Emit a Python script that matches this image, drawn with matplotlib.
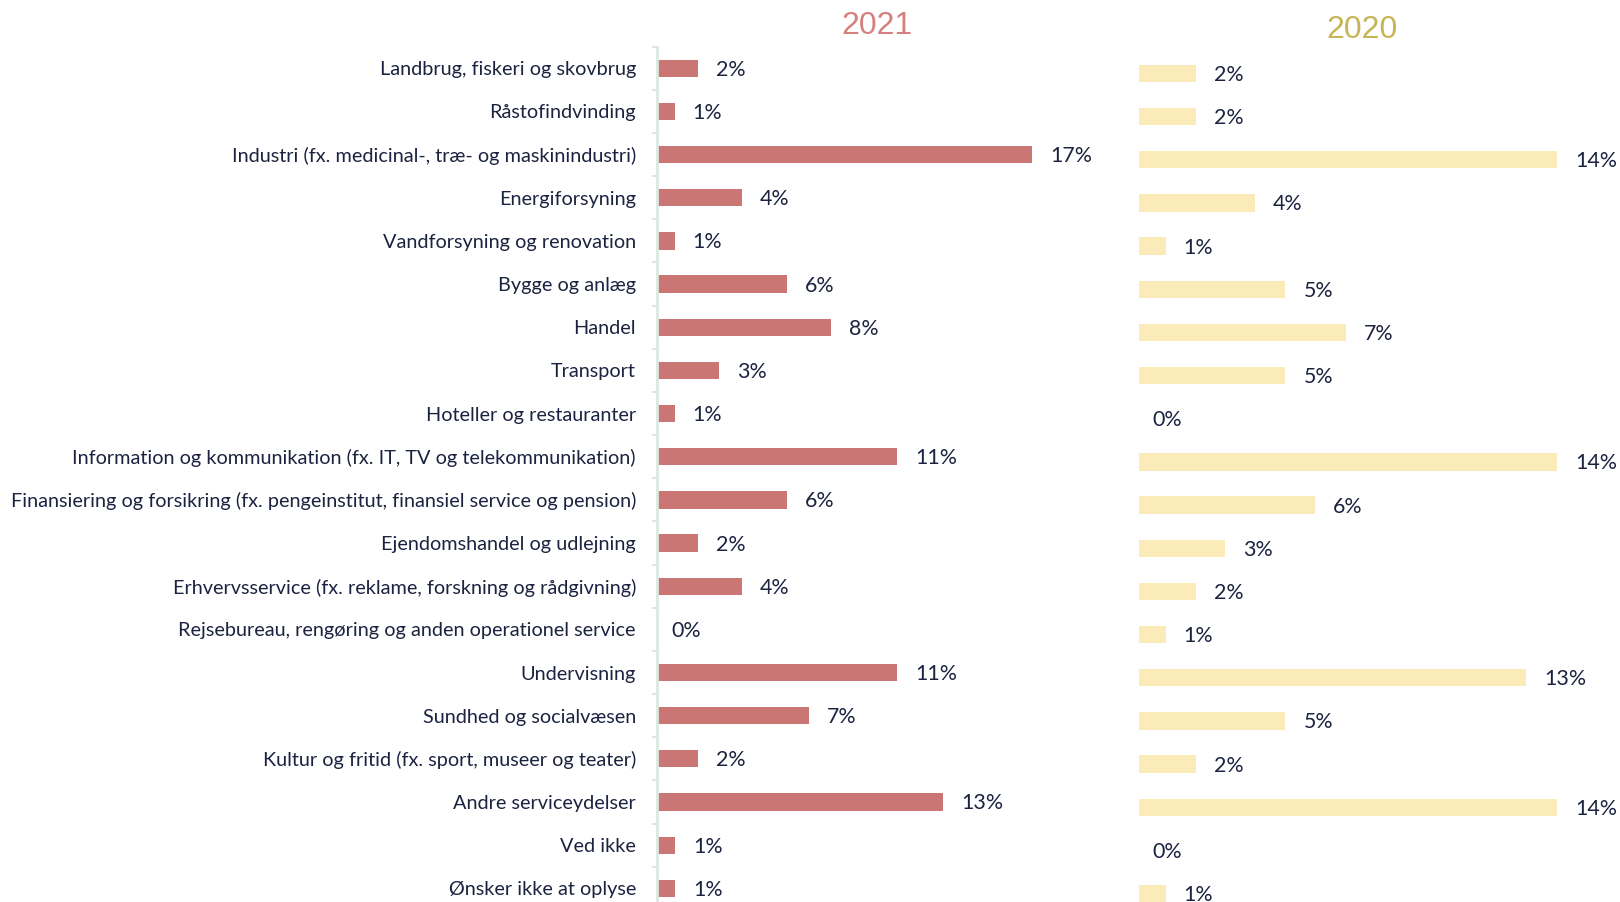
import matplotlib
matplotlib.use("Agg")
import matplotlib.pyplot as plt
from matplotlib.ticker import FixedLocator, NullFormatter

# ---- data -------------------------------------------------------------
categories = [
    "Landbrug, fiskeri og skovbrug",
    "Råstofindvinding",
    "Industri (fx. medicinal-, træ- og maskinindustri)",
    "Energiforsyning",
    "Vandforsyning og renovation",
    "Bygge og anlæg",
    "Handel",
    "Transport",
    "Hoteller og restauranter",
    "Information og kommunikation (fx. IT, TV og telekommunikation)",
    "Finansiering og forsikring (fx. pengeinstitut, finansiel service og pension)",
    "Ejendomshandel og udlejning",
    "Erhvervsservice (fx. reklame, forskning og rådgivning)",
    "Rejsebureau, rengøring og anden operationel service",
    "Undervisning",
    "Sundhed og socialvæsen",
    "Kultur og fritid (fx. sport, museer og teater)",
    "Andre serviceydelser",
    "Ved ikke",
    "Ønsker ikke at oplyse",
]
share_2021 = [1.84, 0.80, 17.0, 3.85, 0.80, 5.90, 7.87, 2.80, 0.80, 10.9,
              5.90, 1.84, 3.85, 0.0, 10.9, 6.90, 1.84, 12.97, 0.82, 0.82]
share_2020 = [1.91, 1.91, 14.0, 3.90, 0.90, 4.91, 6.95, 4.91, 0.0, 14.0,
              5.91, 2.90, 1.91, 0.90, 12.96, 4.91, 1.91, 14.0, 0.0, 0.90]
years = ["2021", "2020"]

# ---- style ------------------------------------------------------------
W, H, DPI = 1620, 902, 100
TEXT = "#1C2340"
BAR_21 = "#C97674"
BAR_20 = "#FBEBB8"
TITLE_21 = "#D4807E"
TITLE_20 = "#C6B455"
SPINE = "#DCE8E2"
LABEL_FONT = ["Lato", "DejaVu Sans"]
TITLE_FONT = ["Liberation Sans", "DejaVu Sans"]

fig = plt.figure(figsize=(W / DPI, H / DPI), dpi=DPI)
fig.patch.set_facecolor("white")

# fit the category label size so the longest one spans ~625 px
renderer = fig.canvas.get_renderer()
probe = fig.text(0, 0, max(categories, key=len), fontsize=10, family=LABEL_FONT)
probe_w = probe.get_window_extent(renderer).width
probe.remove()
label_size = 10 * 625 / probe_w
value_size = label_size * 1.08

n = len(categories)
row_px = 43.16


def px_axes(left, top, width, height):
    return fig.add_axes([left / W, 1 - (top + height) / H, width / W, height / H])


def panel(ax, values, px_per_unit, color):
    pos = list(range(n))
    ax.barh(pos, values, height=0.40, color=color, zorder=2)
    width_px = ax.get_position().width * W
    ax.set_xlim(0, width_px / px_per_unit)
    ax.set_ylim(n - 0.5, -0.5)
    for s in ["top", "right", "bottom", "left"]:
        ax.spines[s].set_visible(False)
    ax.set_xticks([])
    ax.set_facecolor("none")
    for i, v in enumerate(values):
        pad_px = 18 if v > 0 else 14
        ax.annotate(f"{v:.0f}%", xy=(v, i),
                    xytext=(pad_px * 72 / DPI, -1.5 * 72 / DPI),
                    textcoords="offset points", va="center", ha="left",
                    fontsize=value_size, family=LABEL_FONT, color=TEXT)


# 2021 panel with category labels
ax1 = px_axes(657, 46.7, 420, n * row_px)
panel(ax1, share_2021, 22.06, BAR_21)
ax1.spines["left"].set_visible(True)
ax1.spines["left"].set_color(SPINE)
ax1.spines["left"].set_linewidth(2)
ax1.set_yticks(range(n))
ax1.set_yticklabels(categories, fontsize=label_size, family=LABEL_FONT, color=TEXT)
ax1.tick_params(axis="y", which="major", length=0, pad=21 * 72 / DPI)
ax1.yaxis.set_minor_locator(FixedLocator([i - 0.5 for i in range(n + 1)]))
ax1.yaxis.set_minor_formatter(NullFormatter())
ax1.tick_params(axis="y", which="minor", length=5 * 72 / DPI, width=1.5,
                color=SPINE, direction="out")

# 2020 panel
ax2 = px_axes(1138.6, 51.9, 460, n * row_px)
panel(ax2, share_2020, 29.89, BAR_20)
ax2.set_yticks([])

# year headers
fig.text(877 / W, 1 - 26.5 / H, years[0], ha="center", va="center",
         fontsize=23, family=TITLE_FONT, color=TITLE_21)
fig.text(1361.8 / W, 1 - 29.5 / H, years[1], ha="center", va="center",
         fontsize=23, family=TITLE_FONT, color=TITLE_20)

fig.savefig("out.png", dpi=DPI, facecolor="white")
